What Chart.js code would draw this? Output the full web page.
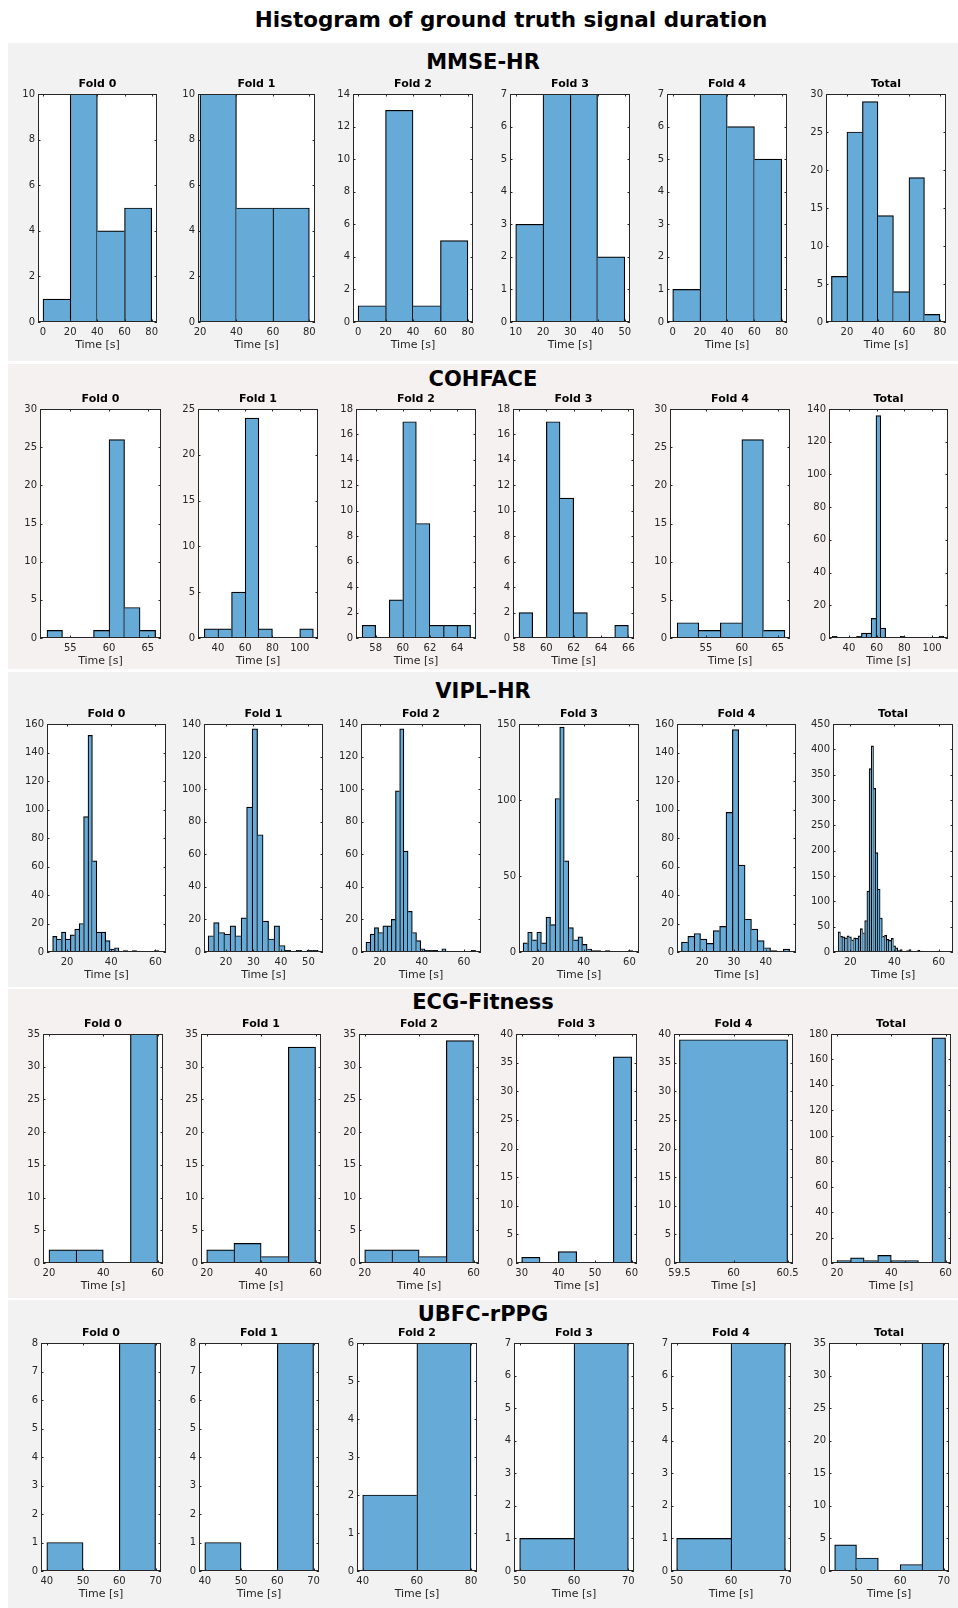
<!DOCTYPE html>
<html>
<head>
<meta charset="utf-8">
<title>Histogram of ground truth signal duration</title>
<script src="https://cdn.jsdelivr.net/npm/chart.js@4.4.1/dist/chart.umd.min.js"></script>
<style>
  body { margin: 0; background: #fff; font-family: "DejaVu Sans", sans-serif; }
  #page { position: relative; width: 958px; height: 1608px; overflow: hidden; }
  #mainTitle { position: absolute; left: 211px; width: 600px; top: 7px; text-align: center;
    font-size: 21.5px; line-height: 25px; font-weight: bold; color: #000; }
  .band { position: absolute; left: 8px; right: 0; }
  .head { position: absolute; left: 8px; width: 950px; text-align: center;
    font-size: 21px; line-height: 24px; font-weight: bold; color: #000; }
  canvas { position: absolute; }
</style>
</head>
<body>
<div id="page">
  <div id="mainTitle">Histogram of ground truth signal duration</div>
</div>
<script>
const foldNames = ['Fold 0', 'Fold 1', 'Fold 2', 'Fold 3', 'Fold 4', 'Total'];

// MMSE-HR
const mmseBinStart = [0, 20, 0, 10, 0, 10];
const mmseBinWidth = [20, 20, 20, 10, 20, 10];
const mmseCounts = [
  [1, 10, 4, 5],
  [10, 5, 5],
  [1, 13, 1, 5],
  [3, 7, 7, 2],
  [1, 7, 6, 5],
  [6, 25, 29, 14, 4, 19, 1]
];
const mmseXRange = [[-3.7, 83.9], [18.9, 83.1], [-3.7, 83.7], [7.9, 51.9], [-4.2, 83.9], [6.5, 83.9]];
const mmseXTicks = [[0, 20, 40, 60, 80], [20, 40, 60, 80], [0, 20, 40, 60, 80], [10, 20, 30, 40, 50], [0, 20, 40, 60, 80], [20, 40, 60, 80]];
const mmseYMax = [10, 10, 14, 7, 7, 30];
const mmseYStep = [2, 2, 2, 1, 1, 5];

// COHFACE
const cohBinStart = [52, 30, 57, 58, 51, 28];
const cohBinWidth = [2, 10, 1, 1, 3, 3.5];
const cohCounts = [
  [1, 0, 0, 1, 26, 4, 1],
  [1, 1, 5, 24, 1, 0, 0, 1],
  [1, 0, 3, 17, 9, 1, 1, 1],
  [2, 0, 17, 11, 2, 0, 0, 1],
  [2, 1, 2, 26, 1],
  [1, 0, 0, 0, 0, 1, 3, 3, 12, 136, 6, 0, 0, 0, 1, 0, 0, 0, 0, 0, 0, 0, 1]
];
const cohXRange = [[51.1, 66.7], [25.4, 113.4], [56.55, 65.4], [57.56, 66.41], [50.0, 66.7], [25.6, 111.5]];
const cohXTicks = [[55, 60, 65], [40, 60, 80, 100], [58, 60, 62, 64], [58, 60, 62, 64, 66], [55, 60, 65], [40, 60, 80, 100]];
const cohYMax = [30, 25, 18, 18, 30, 140];
const cohYStep = [5, 5, 2, 2, 5, 20];

// VIPL-HR
const viplBinStart = [13.5, 13.5, 13.5, 13.5, 13.5, 14.5];
const viplBinWidth = [2, 2, 2, 2, 2, 1];
const viplCounts = [
  [11, 9, 14, 9, 12, 16, 20, 95, 152, 64, 14, 14, 8, 2, 3, 0, 1, 0, 1, 0, 0, 0, 0, 1],
  [10, 18, 12, 11, 16, 10, 21, 89, 137, 72, 19, 8, 16, 4, 1, 0, 1, 0, 1, 1],
  [6, 11, 15, 12, 16, 16, 20, 99, 137, 62, 25, 12, 7, 2, 1, 1, 1, 0, 2, 0, 0, 0, 0, 0, 0, 1],
  [6, 13, 8, 13, 6, 23, 18, 101, 148, 60, 16, 8, 10, 5, 2, 1, 1, 0, 1, 0, 0, 0, 0, 1],
  [7, 11, 13, 9, 6, 15, 18, 98, 156, 61, 23, 16, 8, 3, 1, 0, 2],
  [40, 31, 30, 28, 32, 30, 24, 28, 27, 32, 46, 38, 62, 120, 362, 407, 323, 196, 124, 67,
   31, 33, 25, 23, 27, 12, 8, 3, 5, 2, 2, 3, 5, 2, 1, 1, 4, 2, 1, 1, 1, 1, 1, 1, 0, 2, 1, 1, 1, 1, 1]
];
const viplXRange = [[10.95, 64.8], [12.0, 55.3], [11.15, 68.1], [11.7, 64.2], [12.1, 49.5], [12.16, 66.5]];
const viplXTicks = [[20, 40, 60], [20, 30, 40, 50], [20, 40, 60], [20, 40, 60], [20, 30, 40], [20, 40, 60]];
const viplYMax = [160, 140, 140, 150, 160, 450];
const viplYStep = [20, 20, 20, 50, 20, 50];

// ECG-Fitness
const ecgBinStart = [20, 20, 20, 30, 59.5, 20];
const ecgBinWidth = [10, 10, 10, 5, 1, 5];
const ecgCounts = [
  [2, 2, 0, 35],
  [2, 3, 1, 33],
  [2, 2, 1, 34],
  [1, 0, 2, 0, 0, 36],
  [39],
  [2, 4, 2, 6, 2, 2, 0, 177]
];
const ecgXRange = [[17.8, 62.0], [17.9, 62.0], [17.9, 62.0], [28.45, 61.46], [59.45, 60.55], [17.8, 62.0]];
const ecgXTicks = [[20, 40, 60], [20, 40, 60], [20, 40, 60], [30, 40, 50, 60], [59.5, 60, 60.5], [20, 40, 60]];
const ecgYMax = [35, 35, 35, 40, 40, 180];
const ecgYStep = [5, 5, 5, 5, 5, 20];

// UBFC-rPPG
const ubfcBinStart = [40, 40, 40, 50, 50, 45];
const ubfcBinWidth = [10, 10, 20, 10, 10, 5];
const ubfcCounts = [
  [1, 0, 8],
  [1, 0, 8],
  [2, 6],
  [1, 7],
  [1, 7],
  [4, 2, 0, 1, 35]
];
const ubfcXRange = [[38.4, 71.5], [38.4, 71.5], [37.9, 82.2], [48.96, 71.04], [48.96, 71.04], [43.7, 71.2]];
const ubfcXTicks = [[40, 50, 60, 70], [40, 50, 60, 70], [40, 60, 80], [50, 60, 70], [50, 60, 70], [50, 60, 70]];
const ubfcYMax = [8, 8, 6, 7, 7, 35];
const ubfcYStep = [1, 1, 1, 1, 1, 5];

const sections = [
  { name: 'MMSE-HR', start: mmseBinStart, width: mmseBinWidth, counts: mmseCounts, xRange: mmseXRange, xTicks: mmseXTicks, yMax: mmseYMax, yStep: mmseYStep },
  { name: 'COHFACE', start: cohBinStart, width: cohBinWidth, counts: cohCounts, xRange: cohXRange, xTicks: cohXTicks, yMax: cohYMax, yStep: cohYStep },
  { name: 'VIPL-HR', start: viplBinStart, width: viplBinWidth, counts: viplCounts, xRange: viplXRange, xTicks: viplXTicks, yMax: viplYMax, yStep: viplYStep },
  { name: 'ECG-Fitness', start: ecgBinStart, width: ecgBinWidth, counts: ecgCounts, xRange: ecgXRange, xTicks: ecgXTicks, yMax: ecgYMax, yStep: ecgYStep },
  { name: 'UBFC-rPPG', start: ubfcBinStart, width: ubfcBinWidth, counts: ubfcCounts, xRange: ubfcXRange, xTicks: ubfcXTicks, yMax: ubfcYMax, yStep: ubfcYStep }
];

// page layout (px)
const bandRange = [[43, 361], [364, 669], [672, 987], [989, 1298], [1300, 1608]];
const bandColor = ['#f2f2f2', '#f6f1f1', '#f2f2f2', '#f6f1f1', '#f2f2f2'];
const headCenterY = [61.5, 378, 690, 1001, 1313];
const axTop = [94, 409, 724, 1034, 1343];
const axBottom = [322, 638, 952, 1263, 1571];
const axLeft = [
  [38, 198, 353, 510, 667, 826],
  [40, 198, 356, 513, 670, 829],
  [47, 204, 361, 519, 677, 833],
  [43, 201, 359, 516, 674, 831],
  [41, 199, 357, 514, 671, 829]
];
const axRight = [
  [157, 315, 473, 630, 787, 946],
  [161, 318, 476, 634, 790, 948],
  [166, 323, 481, 639, 796, 953],
  [163, 321, 479, 637, 793, 951],
  [161, 319, 477, 634, 791, 949]
];

const Y_W = 36, X_H = 30, TITLE_H = 21, PAD_R = 14;
const axisColor = '#262626';
const barFill = '#66aad7';
const barEdge = '#000000';
const edgeW = 1.2;

Chart.defaults.font.family = '"DejaVu Sans", sans-serif';

// white plot area, box and inward ticks like the original figure
const axesBox = {
  id: 'axesBox',
  beforeDraw(chart) {
    const { ctx, chartArea: a } = chart;
    ctx.save();
    ctx.fillStyle = '#ffffff';
    ctx.fillRect(a.left, a.top, a.right - a.left, a.bottom - a.top);
    ctx.restore();
  },
  afterDatasetsDraw(chart) {
    const { ctx, chartArea: a, scales } = chart;
    const tl = 2.5;
    ctx.save();
    ctx.strokeStyle = axisColor;
    ctx.lineWidth = 1;
    ctx.beginPath();
    scales.x.ticks.forEach(t => {
      const px = Math.round(scales.x.getPixelForValue(t.value)) + 0.5;
      ctx.moveTo(px, a.bottom); ctx.lineTo(px, a.bottom - tl);
      ctx.moveTo(px, a.top); ctx.lineTo(px, a.top + tl);
    });
    scales.y.ticks.forEach(t => {
      const py = Math.round(scales.y.getPixelForValue(t.value)) + 0.5;
      ctx.moveTo(a.left, py); ctx.lineTo(a.left + tl, py);
      ctx.moveTo(a.right, py); ctx.lineTo(a.right - tl, py);
    });
    ctx.stroke();
    ctx.strokeRect(Math.round(a.left) + 0.5, Math.round(a.top) + 0.5,
      Math.round(a.right - a.left) - 1, Math.round(a.bottom - a.top) - 1);
    ctx.restore();
  }
};

const page = document.getElementById('page');

sections.forEach((sec, r) => {
  const band = document.createElement('div');
  band.className = 'band';
  band.style.top = bandRange[r][0] + 'px';
  band.style.height = (bandRange[r][1] - bandRange[r][0]) + 'px';
  band.style.background = bandColor[r];
  page.appendChild(band);

  const head = document.createElement('div');
  head.className = 'head';
  head.style.top = (headCenterY[r] - 11.5) + 'px';
  head.textContent = sec.name;
  page.appendChild(head);

  foldNames.forEach((fold, c) => {
    const L = axLeft[r][c], R = axRight[r][c], T = axTop[r], B = axBottom[r];
    const w = (R - L) + Y_W + PAD_R;
    const h = (B - T) + TITLE_H + X_H;
    const cv = document.createElement('canvas');
    cv.width = w; cv.height = h;
    cv.style.left = (L - Y_W) + 'px';
    cv.style.top = (T - TITLE_H) + 'px';
    cv.style.width = w + 'px';
    cv.style.height = h + 'px';
    page.appendChild(cv);

    const start = sec.start[c], bw = sec.width[c], counts = sec.counts[c];
    const points = counts.map((n, i) => ({ x: start + (i + 0.5) * bw, y: n }));
    const edges = counts.map((n, i) => start + i * bw).concat([start + counts.length * bw]);
    const yTicks = [];
    for (let v = 0; v <= sec.yMax[c] + 1e-9; v += sec.yStep[c]) yTicks.push(v);

    new Chart(cv, {
      type: 'bar',
      data: {
        datasets: [{
          data: points,
          xAxisID: 'xb',
          backgroundColor: barFill,
          borderColor: barEdge,
          borderSkipped: 'start',
          borderWidth: ctx => {
            const d = ctx.dataset.data, i = ctx.dataIndex, own = d[i].y;
            const prev = i > 0 ? d[i - 1].y : -1;
            const next = i < d.length - 1 ? d[i + 1].y : -1;
            return { top: edgeW, bottom: 0, left: prev <= own ? edgeW : 0, right: next < own ? edgeW : 0 };
          },
          barPercentage: 1,
          categoryPercentage: 1
        }]
      },
      options: {
        responsive: false,
        animation: false,
        devicePixelRatio: 1,
        layout: { padding: { left: 0, right: PAD_R, top: 0, bottom: 0 } },
        plugins: {
          legend: { display: false },
          tooltip: { enabled: false },
          title: {
            display: true,
            text: fold,
            fullSize: false,
            color: '#000',
            font: { size: 11, weight: 'bold', lineHeight: '14px' },
            padding: { top: 4, bottom: 3 }
          }
        },
        scales: {
          xb: {
            type: 'linear',
            display: false,
            offset: false,
            min: sec.xRange[c][0],
            max: sec.xRange[c][1],
            afterBuildTicks: s => { s.ticks = edges.map(v => ({ value: v })); }
          },
          x: {
            type: 'linear',
            position: 'bottom',
            offset: false,
            min: sec.xRange[c][0],
            max: sec.xRange[c][1],
            bounds: 'data',
            afterBuildTicks: s => { s.ticks = sec.xTicks[c].map(v => ({ value: v })); },
            afterFit: s => { s.height = X_H; },
            grid: { display: false, drawTicks: false, offset: false },
            border: { display: false },
            ticks: {
              autoSkip: false, maxRotation: 0, padding: 4,
              color: axisColor, font: { size: 10 },
              callback: v => String(v)
            },
            title: {
              display: true, text: 'Time [s]', color: axisColor,
              font: { size: 11, lineHeight: '13px' }, padding: 0
            }
          },
          y: {
            type: 'linear',
            offset: false,
            min: 0,
            max: sec.yMax[c],
            bounds: 'data',
            afterBuildTicks: s => { s.ticks = yTicks.map(v => ({ value: v })); },
            afterFit: s => { s.width = Y_W; },
            grid: { display: false, drawTicks: false },
            border: { display: false },
            ticks: {
              autoSkip: false, padding: 3,
              color: axisColor, font: { size: 10 },
              callback: v => String(v)
            }
          }
        }
      },
      plugins: [axesBox]
    });
  });
});
</script>
</body>
</html>
